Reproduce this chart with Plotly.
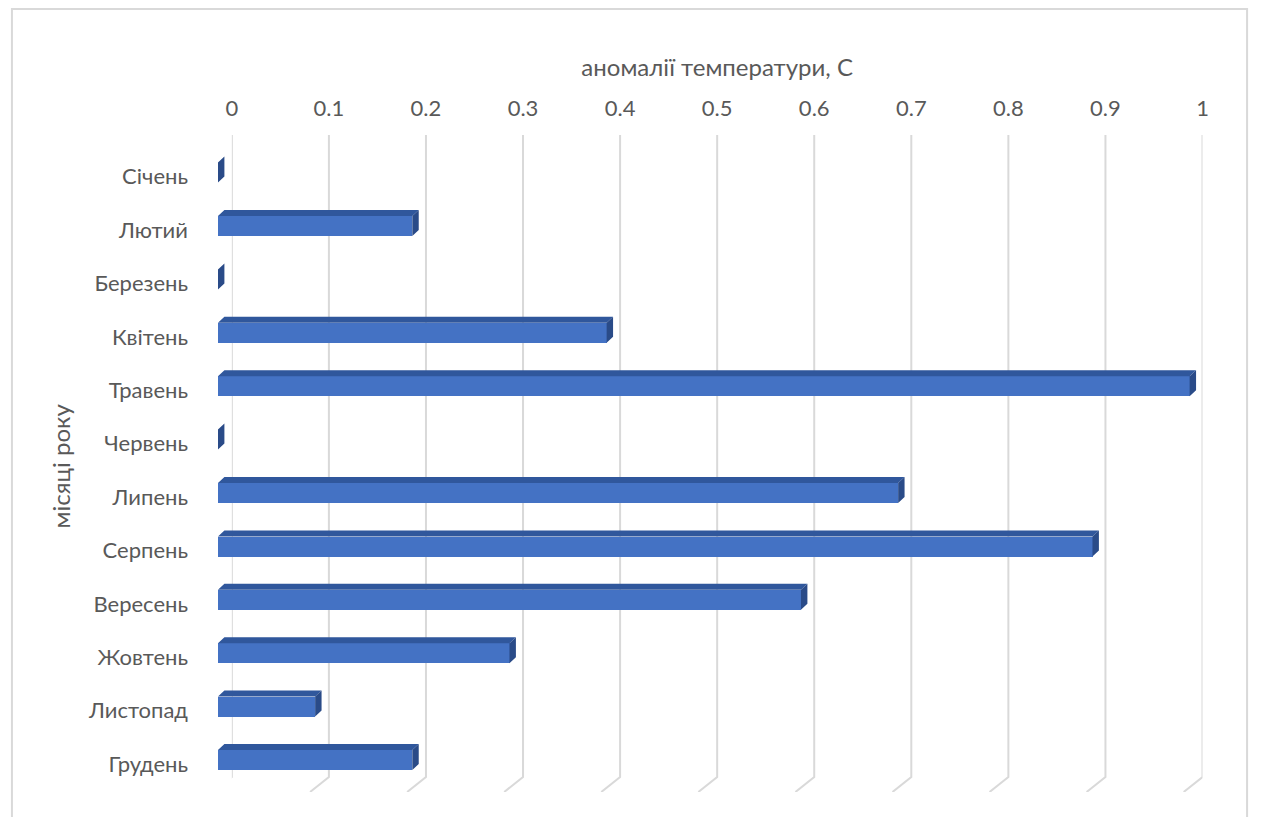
import plotly.graph_objects as go

months = ["Січень", "Лютий", "Березень", "Квітень", "Травень", "Червень",
          "Липень", "Серпень", "Вересень", "Жовтень", "Листопад", "Грудень"]
anomaly = [0, 0.2, 0, 0.4, 1.0, 0, 0.7, 0.9, 0.6, 0.3, 0.1, 0.2]
tick_vals = [0, 0.1, 0.2, 0.3, 0.4, 0.5, 0.6, 0.7, 0.8, 0.9, 1.0]
tick_text = ["0", "0.1", "0.2", "0.3", "0.4", "0.5", "0.6", "0.7", "0.8", "0.9", "1"]
x_title = "аномалії температури, С"
y_title = "місяці року"

W, H = 1261, 817
FONT = "Lato, 'Noto Sans', sans-serif"
TXT = "#595959"
GRID = "#d9d9d9"
FRONT = "#4472C4"
TOP = "#30579c"
SIDE = "#2a4b88"

def px(x):
    return x / W

def py(y):
    return 1 - y / H

# back-wall axis (labels + gridlines)
wall_l, wall_r = 228, 1208
wall_top, wall_bot, floor_y = 135, 777, 792
foot_dx = 19  # px
# bar axis
bar_l, bar_unit = 214, 981  # px for value 0, px per 1.0
extra = 20
cat_top, cat_step = 172.6, 53.4
n = len(months)
bar_h = 20 / cat_step
dx = 6.5 / bar_unit
dy = 6.0 / cat_step

fig = go.Figure()

# gridlines with 3D floor foot (subplot xy, drawn first)
gx, gy = [], []
yb = (floor_y - wall_bot) / (floor_y - wall_top)
for v in tick_vals:
    gx += [v, v, v - foot_dx / (wall_r - wall_l), None]
    gy += [1, yb, 0, None]
fig.add_trace(go.Scatter(x=gx, y=gy, mode="lines", line=dict(color=GRID, width=2),
                         hoverinfo="skip", showlegend=False, xaxis="x", yaxis="y"))

# bars front face
idx = list(range(n))
fig.add_trace(go.Bar(x=anomaly, y=idx, orientation="h", width=bar_h,
                     marker=dict(color=FRONT, line=dict(width=0)),
                     showlegend=False, xaxis="x2", yaxis="y2"))

# top and side faces
tx, ty, sx, sy = [], [], [], []
for i, v in enumerate(anomaly):
    t = i - bar_h / 2
    b = i + bar_h / 2
    if v > 0:
        tx += [0, v, v + dx, dx, 0, None]
        ty += [t, t, t - dy, t - dy, t, None]
    sx += [v, v + dx, v + dx, v, v, None]
    sy += [t, t - dy, b - dy, b, t, None]
fig.add_trace(go.Scatter(x=tx, y=ty, mode="lines", fill="toself", fillcolor=TOP,
                         line=dict(width=0, color=TOP), hoverinfo="skip",
                         showlegend=False, xaxis="x2", yaxis="y2"))
fig.add_trace(go.Scatter(x=sx, y=sy, mode="lines", fill="toself", fillcolor=SIDE,
                         line=dict(width=0, color=SIDE), hoverinfo="skip",
                         showlegend=False, xaxis="x2", yaxis="y2"))

fig.update_layout(
    width=W, height=H,
    margin=dict(l=0, r=0, t=0, b=0),
    paper_bgcolor="white", plot_bgcolor="rgba(0,0,0,0)",
    font=dict(family=FONT, color=TXT, size=22),
    bargap=0,
    xaxis=dict(domain=[px(wall_l), px(wall_r)], range=[0, 1], side="top", anchor="y",
               tickvals=tick_vals, ticktext=tick_text, showgrid=False, zeroline=False,
               showline=False, ticks="", ticklabelstandoff=14,
               tickfont=dict(size=22, color=TXT),
               title=dict(text=x_title, font=dict(size=24, color=TXT), standoff=10)),
    yaxis=dict(domain=[py(floor_y), py(wall_top)], range=[0, 1], visible=False,
               anchor="x"),
    xaxis2=dict(domain=[px(bar_l), px(bar_l + bar_unit + extra)],
                range=[0, 1 + extra / bar_unit], visible=False, anchor="y2"),
    yaxis2=dict(domain=[py(cat_top + (n - 0.5) * cat_step), py(cat_top - 0.5 * cat_step)],
                range=[n - 0.5, -0.5], anchor="x2", tickvals=idx, ticktext=months,
                showgrid=False, zeroline=False, showline=False, ticks="",
                ticklabelstandoff=29, ticklabelshift=-4,
                tickfont=dict(size=22, color=TXT),
                title=dict(text=y_title, font=dict(size=24, color=TXT), standoff=10)),
    shapes=[dict(type="rect", xref="paper", yref="paper", x0=px(6), x1=px(1253),
                 y0=py(830), y1=py(9), line=dict(color=GRID, width=2),
                 fillcolor="rgba(0,0,0,0)", layer="below")],
)

fig.write_html("out.html")
